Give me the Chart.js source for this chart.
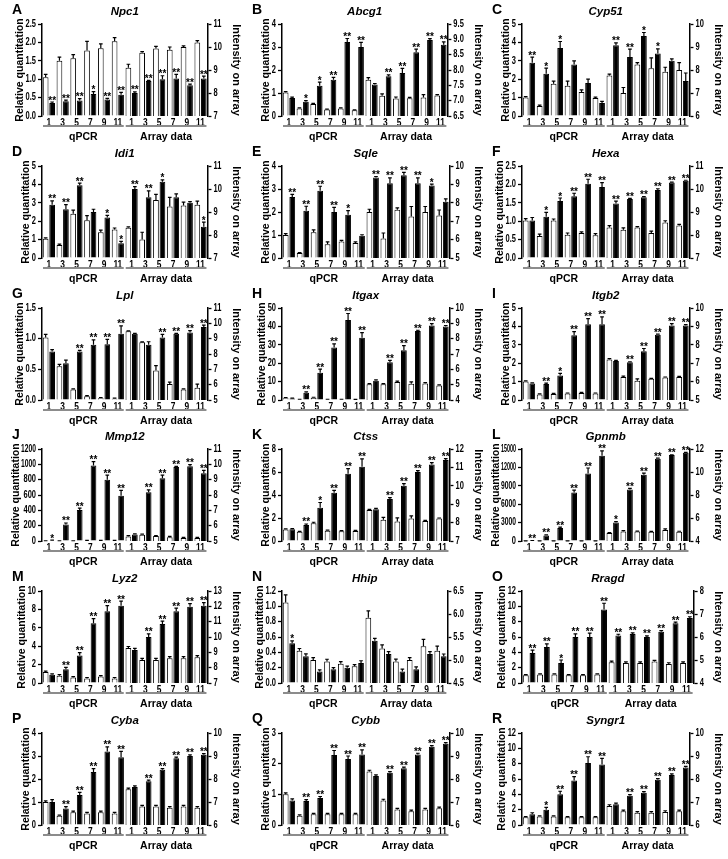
<!DOCTYPE html>
<html>
<head>
<meta charset="utf-8">
<script src="https://cdn.jsdelivr.net/npm/chart.js@4.4.1/dist/chart.umd.min.js"></script>
<style>
body { margin: 0; background: #fff; }
#fig { position: relative; width: 728px; height: 859px; overflow: hidden; }
#fig canvas { position: absolute; }
</style>
</head>
<body>
<div id="fig"></div>
<script>
// time points (same for both halves)
var timeLabels = ['1', '3', '5', '7', '9', '11'];
var letters = ['A','B','C','D','E','F','G','H','I','J','K','L','M','N','O','P','Q','R'];
var genes = ['Npc1','Abcg1','Cyp51','Idi1','Sqle','Hexa','Lpl','Itgax','Itgb2',
             'Mmp12','Ctss','Gpnmb','Lyz2','Hhip','Rragd','Cyba','Cybb','Syngr1'];

// left axis (qPCR): [max, step, decimals]
var leftAxis = [[2.5,0.5,1],[4,1,0],[5,1,0],[5,1,0],[4,1,0],[2.5,0.5,1],
                [1.5,0.5,1],[50,10,0],[5,1,0],[1200,200,0],[8,2,0],[15000,3000,0],
                [10,2,0],[1.2,0.2,1],[12,2,0],[4,1,0],[3,1,0],[12,2,0]];
// right axis (array): [min, max, step, decimals]
var rightAxis = [[7,11,1,0],[6.5,9.5,0.5,1],[6,10,1,0],[7,11,1,0],[5,10,1,0],[7,11,1,0],
                 [5,11,1,0],[4,10,1,0],[5,10,1,0],[5,11,1,0],[7,12,1,0],[4,12,2,0],
                 [7,13,1,0],[4.5,6.5,0.5,1],[4,8,1,0],[6,10,1,0],[6,10,1,0],[6,10,1,0]];

// qPCR, control (white) and treated (black)
var qpcrCtl = [
  [1.05,1.50,1.57,1.78,1.84,2.03],[1.02,0.33,0.52,0.28,0.33,0.25],[1.00,0.55,1.75,1.65,1.30,0.98],
  [1.05,0.70,2.40,2.05,1.40,1.55],[1.00,0.22,1.12,0.60,0.72,0.65],[1.02,0.60,1.02,0.63,0.68,0.62],
  [1.02,0.55,0.17,0.06,0.03,0.02],[1.0,0.3,1.2,0.3,0.3,0.2],[1.00,0.30,0.33,0.35,0.38,0.35],
  [2,2,2,5,5,5],[1.00,0.80,1.55,0.90,0.85,0.88],[10,10,10,10,10,10],
  [1.2,0.8,0.6,0.5,0.7,0.5],[1.05,0.42,0.30,0.28,0.25,0.22],[1.0,1.1,1.1,1.0,1.0,1.1],
  [1.0,0.4,0.55,0.5,0.55,0.5],[1.0,0.3,0.35,0.35,0.35,0.35],[1.0,1.1,1.1,1.0,1.0,1.0]
];
var qpcrTrt = [
  [0.35,0.40,0.42,0.60,0.45,0.58],[0.78,0.62,1.32,1.58,3.22,3.00],[2.90,2.30,3.70,2.80,1.80,0.70],
  [2.90,2.65,3.95,2.50,2.20,0.80],[2.65,2.05,2.92,2.00,1.88,0.97],[1.02,1.12,1.55,1.68,2.02,1.93],
  [0.79,0.60,0.79,0.90,0.91,1.08],[0.8,4.0,14.8,28.5,43.5,33.8],[0.90,0.87,1.33,3.52,4.12,4.12],
  [8,215,405,985,800,590],[1.02,1.40,2.90,4.20,5.85,6.45],[60,900,2100,7900,11000,13900],
  [0.9,1.5,3.0,6.5,7.8,8.4],[0.52,0.35,0.15,0.18,0.20,0.26],[3.9,4.7,2.6,6.0,6.0,9.6],
  [1.0,0.72,1.3,2.3,3.2,2.95],[0.8,0.78,0.88,2.28,2.15,2.3],[1.4,2.0,4.0,5.8,8.1,7.9]
];
// array intensity, control (white) and treated (black)
var arrayCtl = [
  [9.10,9.75,9.93,9.88,10.0,10.2],[7.68,7.16,7.07,7.08,7.10,7.17],[7.76,7.00,8.24,8.08,7.92,8.00],
  [8.32,7.80,9.52,9.24,9.28,9.32],[7.50,6.06,7.62,7.25,7.50,7.31],[8.33,8.23,8.33,8.09,8.54,8.41],
  [9.48,8.76,6.92,6.04,5.68,5.80],[5.02,5.02,5.18,5.06,5.08,4.94],[7.20,6.25,6.05,6.15,6.22,6.25],
  [5.30,5.40,5.32,5.25,5.20,5.20],[8.69,8.16,8.06,8.22,8.09,8.22],[4.69,4.83,4.83,4.80,4.96,4.80],
  [9.28,8.50,8.50,8.62,8.62,8.68],[5.92,5.25,4.97,5.00,5.30,5.20],[4.90,4.87,4.87,4.93,4.83,4.87],
  [7.55,6.80,6.80,6.75,6.80,6.75],[8.33,7.07,6.67,6.60,6.67,6.73],[6.83,6.60,6.53,6.53,6.57,6.60]
];
var arrayTrt = [
  [8.00,8.52,8.60,8.63,8.34,8.63],[7.53,7.80,7.90,8.58,8.98,8.82],[9.08,8.56,9.48,8.72,8.40,7.52],
  [10.0,9.64,10.32,9.64,9.40,8.36],[9.38,9.06,9.50,9.06,8.94,8.06],[9.37,9.56,9.64,9.96,10.28,10.36],
  [9.32,8.60,9.08,9.32,9.40,9.76],[5.26,6.46,7.24,8.50,8.86,8.80],[7.12,7.05,7.65,8.55,9.05,9.05],
  [5.42,8.18,9.10,9.82,9.88,9.42],[8.72,9.28,10.00,10.75,11.16,11.40],[5.60,8.48,9.76,11.15,11.47,11.68],
  [9.16,10.0,10.84,11.68,11.98,12.04],[5.42,5.13,4.75,4.80,5.13,5.08],[6.07,6.13,6.00,6.23,6.60,6.83],
  [7.65,7.90,8.40,8.90,9.00,9.05],[8.13,8.27,8.47,9.07,9.40,9.53],[6.90,7.27,7.40,7.97,8.17,8.50]
];

// SEM, in the units of each axis
var qpcrCtlErr = [
  [0.08,0.10,0.10,0.25,0.12,0.10],[0.04,0.02,0.03,0.02,0.02,0.02],[0.05,0.04,0.15,0.25,0.12,0.05],
  [0.04,0.05,0.20,0.25,0.12,0.08],[0.06,0.02,0.10,0.10,0.05,0.05],[0.05,0.05,0.04,0.05,0.03,0.04],
  [0.05,0.03,0.01,0.01,0.01,0.01],[0.3,0.1,0.3,0.1,0.1,0.1],[0.04,0.03,0.03,0.03,0.03,0.03],
  [1,1,1,2,2,2],[0.05,0.04,0.08,0.05,0.05,0.05],[5,5,5,5,5,5],
  [0.1,0.1,0.1,0.1,0.1,0.1],[0.10,0.03,0.03,0.03,0.03,0.02],[0.1,0.1,0.1,0.1,0.1,0.1],
  [0.05,0.03,0.05,0.05,0.05,0.05],[0.05,0.03,0.03,0.03,0.03,0.03],[0.1,0.1,0.1,0.1,0.1,0.1]
];
var qpcrTrtErr = [
  [0.03,0.03,0.05,0.06,0.03,0.06],[0.04,0.05,0.15,0.10,0.15,0.20],[0.30,0.30,0.35,0.20,0.20,0.10],
  [0.20,0.25,0.12,0.15,0.12,0.10],[0.12,0.20,0.20,0.20,0.18,0.04],[0.08,0.12,0.08,0.08,0.12,0.12],
  [0.03,0.05,0.02,0.08,0.08,0.13],[0.2,0.4,2.0,2.0,3.5,2.8],[0.03,0.05,0.12,0.20,0.30,0.40],
  [3,20,25,50,60,70],[0.05,0.08,0.45,0.20,0.45,0.70],[20,100,150,400,900,800],
  [0.1,0.2,0.3,0.5,0.6,0.5],[0.03,0.03,0.02,0.02,0.02,0.03],[0.4,0.4,0.4,0.4,0.5,0.8],
  [0.1,0.08,0.12,0.15,0.2,0.25],[0.05,0.05,0.05,0.15,0.1,0.15],[0.2,0.3,0.4,0.5,0.8,0.8]
];
var arrayCtlErr = [
  [0.15,0.05,0.10,0.12,0.05,0.08],[0.07,0.06,0.05,0.03,0.10,0.03],[0.06,0.24,0.08,0.45,0.20,0.32],
  [0.03,0.32,0.25,0.40,0.15,0.15],[0.15,0.30,0.10,0.55,0.30,0.30],[0.08,0.08,0.03,0.08,0.08,0.05],
  [0.03,0.03,0.32,0.12,0.05,0.24],[0.05,0.05,0.05,0.12,0.05,0.05],[0.05,0.05,0.10,0.03,0.03,0.03],
  [0.05,0.05,0.03,0.05,0.03,0.03],[0.03,0.12,0.20,0.15,0.03,0.03],[0.05,0.08,0.03,0.03,0.10,0.05],
  [0.1,0.1,0.1,0.1,0.1,0.1],[0.15,0.08,0.05,0.05,0.15,0.10],[0.05,0.05,0.05,0.05,0.05,0.05],
  [0.05,0.05,0.05,0.05,0.05,0.05],[0.05,0.05,0.05,0.05,0.05,0.05],[0.05,0.05,0.05,0.05,0.05,0.05]
];
var arrayTrtErr = [
  [0.05,0.03,0.15,0.18,0.05,0.10],[0.03,0.04,0.15,0.10,0.04,0.10],[0.10,0.35,0.15,0.20,0.08,0.35],
  [0.10,0.28,0.08,0.15,0.05,0.20],[0.05,0.30,0.15,0.30,0.08,0.15],[0.10,0.03,0.03,0.05,0.02,0.02],
  [0.03,0.20,0.20,0.03,0.12,0.12],[0.05,0.12,0.30,0.05,0.12,0.06],[0.03,0.03,0.15,0.03,0.10,0.05],
  [0.05,0.15,0.20,0.05,0.10,0.18],[0.05,0.08,0.12,0.08,0.10,0.08],[0.08,0.10,0.15,0.05,0.03,0.03],
  [0.1,0.2,0.2,0.2,0.2,0.2],[0.05,0.05,0.05,0.05,0.05,0.05],[0.05,0.05,0.05,0.05,0.05,0.05],
  [0.05,0.05,0.05,0.05,0.05,0.05],[0.05,0.05,0.05,0.05,0.05,0.05],[0.05,0.05,0.05,0.05,0.05,0.05]
];

// significance marks over the black bars
var qpcrStars = [
  ['**','**','**','*','**','**'],['','*','*','**','**','**'],['**','*','*','','',''],
  ['**','**','**','','*','*'],['**','**','**','**','*',''],['','*','*','**','**','**'],
  ['','','**','**','**','**'],['','**','**','**','**','**'],['','**','*','**','**','**'],
  ['*','**','**','**','**','**'],['','**','*','**','**','**'],['**','**','**','**','**','**'],
  ['','**','**','**','**','**'],['*','','','','',''],['**','**','*','**','**','**'],
  ['','**','**','**','**','**'],['','**','**','**','**','**'],['','*','**','**','**','**']
];
var arrayStars = [
  ['**','**','**','**','**','**'],['','**','**','**','**','**'],['**','**','*','*','',''],
  ['**','**','*','','','*'],['**','**','**','**','*',''],['**','**','**','**','**','**'],
  ['','','**','**','**','**'],['','**','**','**','**','**'],['','**','**','**','**','**'],
  ['','**','**','**','**','**'],['','**','**','**','**','**'],['*','**','**','**','**','**'],
  ['','**','**','**','**','**'],['','','','','',''],['**','**','**','**','**','**'],
  ['','**','**','**','**','**'],['','**','**','**','**','**'],['','**','**','**','**','**']
];

var FONT = "'Liberation Sans', Arial, sans-serif";
var none6 = [null, null, null, null, null, null];
var SQUEEZE = 0.75; // the figure's tick numbers are narrow
var MAX_LEFT_LABEL = 15;

var measure = document.createElement('canvas').getContext('2d');
measure.font = 'bold 10px ' + FONT;

// drawn width of the widest left tick number
function leftLabelWidth(la) {
    var w = 0;
    for (var v = 0; v <= la[0] + 1e-9; v += la[1]) {
	w = Math.max(w, measure.measureText(v.toFixed(la[2])).width);
    }
    return Math.min(w * SQUEEZE, MAX_LEFT_LABEL);
}

// error bar caps + stars, drawn from the bar elements
var errorBars = {
    id: 'errorBars',
    afterDatasetsDraw: function(chart) {
	var ctx = chart.ctx;
	ctx.save();
	chart.data.datasets.forEach(function(ds, di) {
	    var meta = chart.getDatasetMeta(di);
	    var scale = chart.scales[ds.yAxisID];
	    meta.data.forEach(function(bar, i) {
		var v = ds.data[i];
		if (v === null) return;
		var yTop = scale.getPixelForValue(v + ds.errors[i]);
		var half = bar.width * 0.32;
		ctx.strokeStyle = '#000';
		ctx.lineWidth = 1.2;
		ctx.beginPath();
		ctx.moveTo(bar.x, bar.y);
		ctx.lineTo(bar.x, yTop);
		ctx.moveTo(bar.x - half, yTop);
		ctx.lineTo(bar.x + half, yTop);
		ctx.stroke();
		var s = ds.stars ? ds.stars[i] : '';
		if (s) {
		    ctx.fillStyle = '#000';
		    ctx.font = 'bold 10px ' + FONT;
		    ctx.textAlign = 'center';
		    ctx.textBaseline = 'alphabetic';
		    ctx.fillText(s, bar.x, yTop + 1.5);
		}
	    });
	});
	ctx.restore();
    }
};

// narrow tick numbers, placed at the scales' own tick pixels
var narrowTicks = {
    id: 'narrowTicks',
    afterDraw: function(chart) {
	var ctx = chart.ctx, area = chart.chartArea;
	ctx.save();
	ctx.fillStyle = '#000';
	['y', 'y1'].forEach(function(id) {
	    var s = chart.scales[id];
	    var left = s.options.position === 'left';
	    ctx.font = 'bold 10px ' + FONT;
	    ctx.textAlign = left ? 'right' : 'left';
	    ctx.textBaseline = 'middle';
	    s.ticks.forEach(function(t, k) {
		var k2 = SQUEEZE;
		var wd = ctx.measureText(t.label).width;
		if (left && wd * k2 > MAX_LEFT_LABEL) k2 = MAX_LEFT_LABEL / wd;
		ctx.save();
		ctx.translate(left ? s.right - 6 : s.left + 6, s.getPixelForTick(k));
		ctx.scale(k2, 1);
		ctx.fillText(t.label, 0, 0);
		ctx.restore();
	    });
	});
	var xs = chart.scales.x;
	ctx.font = 'bold 10.5px ' + FONT;
	ctx.textAlign = 'center';
	ctx.textBaseline = 'top';
	xs.ticks.forEach(function(t, k) {
	    ctx.save();
	    ctx.translate(xs.getPixelForTick(k), area.bottom + 1.5);
	    ctx.scale(0.8, 1);
	    ctx.fillText(t.label, 0, 0);
	    ctx.restore();
	});
	ctx.restore();
    }
};

// panel letter, gene name, qPCR / Array data brackets
var panelDecor = {
    id: 'panelDecor',
    afterDraw: function(chart) {
	var o = chart.options.plugins.panelDecor;
	var ctx = chart.ctx, area = chart.chartArea, x = chart.scales.x;
	ctx.save();
	ctx.fillStyle = '#000';
	ctx.textBaseline = 'alphabetic';
	ctx.font = 'bold 14px ' + FONT;
	ctx.textAlign = 'left';
	ctx.fillText(o.letter, 12, 14);
	ctx.font = 'italic bold 11.5px ' + FONT;
	ctx.textAlign = 'center';
	ctx.fillText(o.gene, (area.left + area.right) / 2, 15);
	var step = x.getPixelForValue(1) - x.getPixelForValue(0);
	[[0, 5, 'qPCR'], [6, 11, 'Array data']].forEach(function(g) {
	    var x0 = x.getPixelForValue(g[0]) - step / 2 + 1;
	    var x1 = x.getPixelForValue(g[1]) + step / 2 - 1;
	    var y = area.bottom + 10;
	    ctx.strokeStyle = '#8c8c8c';
	    ctx.lineWidth = 2;
	    ctx.beginPath();
	    ctx.moveTo(x0, y);
	    ctx.lineTo(x1, y);
	    ctx.stroke();
	    ctx.font = 'bold 10.5px ' + FONT;
	    ctx.fillText(g[2], (x0 + x1) / 2, area.bottom + 24);
	});
	ctx.restore();
    }
};

function barSet(data, errs, stars, fill, axis) {
    return {data: data, errors: errs, stars: stars, yAxisID: axis,
	    backgroundColor: fill, borderColor: '#000', borderWidth: 1,
	    borderSkipped: 'start', skipNull: true,
	    categoryPercentage: 0.94, barPercentage: 0.88};
}

function makePanel(i) {
    var col = i % 3, row = Math.floor(i / 3);
    var cv = document.createElement('canvas');
    var w = col === 0 ? 246 : 248, h = 144;
    cv.width = w; cv.height = h;
    cv.style.width = w + 'px'; cv.style.height = h + 'px';
    cv.style.left = (col * 240) + 'px';
    cv.style.top = Math.round(row * 141.8) + 'px';
    document.getElementById('fig').appendChild(cv);

    var la = leftAxis[i], ra = rightAxis[i];
    // Chart.js labels only reserve room; narrowTicks draws the visible ones
    var hidden = 'rgba(0,0,0,0)';
    var roomFont = {family: FONT, size: 7.5, weight: 'bold'};
    // left title sits just outside the widest tick number
    var titlePad = Math.max(1, 42 - 6 - leftLabelWidth(la) - 12.6 + 1);

    return new Chart(cv, {
	type: 'bar',
	data: {
	    labels: timeLabels.concat(timeLabels),
	    datasets: [
		barSet(qpcrCtl[i].concat(none6), qpcrCtlErr[i].concat(none6), null, '#fff', 'y'),
		barSet(qpcrTrt[i].concat(none6), qpcrTrtErr[i].concat(none6), qpcrStars[i].concat(none6), '#000', 'y'),
		barSet(none6.concat(arrayCtl[i]), none6.concat(arrayCtlErr[i]), null, '#fff', 'y1'),
		barSet(none6.concat(arrayTrt[i]), none6.concat(arrayTrtErr[i]), none6.concat(arrayStars[i]), '#000', 'y1')
	    ]
	},
	options: {
	    responsive: false,
	    animation: false,
	    events: [],
	    layout: {padding: {top: 24, left: 0, right: 0, bottom: 0}},
	    plugins: {
		legend: {display: false},
		tooltip: {enabled: false},
		panelDecor: {letter: letters[i], gene: genes[i]}
	    },
	    scales: {
		x: {
		    grid: {display: false, drawTicks: false},
		    border: {display: false},
		    ticks: {font: roomFont, color: hidden, padding: 3, maxRotation: 0, autoSkip: false},
		    afterFit: function(s) { s.height = 28; }
		},
		y: {
		    position: 'left', min: 0, max: la[0],
		    ticks: {stepSize: la[1], font: roomFont, color: hidden, padding: 2,
			    callback: function(v) { return Number(v).toFixed(la[2]); }},
		    grid: {display: true, drawOnChartArea: false, drawTicks: true,
			   tickLength: 4, tickColor: '#000', tickWidth: 1.3},
		    border: {display: true, color: '#000', width: 1.5},
		    title: {display: true, text: 'Relative quantitation', color: '#000',
			    font: {family: FONT, size: 10.5, weight: 'bold'},
			    padding: {top: titlePad, bottom: 0}},
		    afterFit: function(s) { s.width = 42; }
		},
		y1: {
		    position: 'right', min: ra[0], max: ra[1],
		    ticks: {stepSize: ra[2], font: roomFont, color: hidden, padding: 2,
			    callback: function(v) { return Number(v).toFixed(ra[3]); }},
		    grid: {display: true, drawOnChartArea: false, drawTicks: true,
			   tickLength: 4, tickColor: '#000', tickWidth: 1.3},
		    border: {display: true, color: '#000', width: 1.5},
		    title: {display: true, text: 'Intensity on array', color: '#000',
			    font: {family: FONT, size: 11, weight: 'bold'},
			    padding: {top: 3, bottom: 6}}
		}
	    }
	},
	plugins: [errorBars, narrowTicks, panelDecor]
    });
}

for (var i = 0; i < genes.length; i++) makePanel(i);
</script>
</body>
</html>
